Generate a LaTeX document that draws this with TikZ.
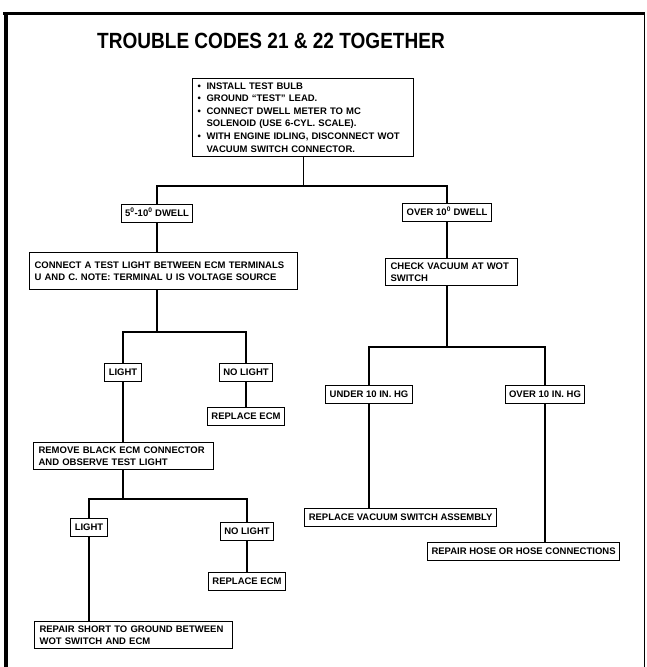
\documentclass[tikz,border=0pt]{standalone}
\usepackage{fontspec}
\setmainfont{Liberation Sans}

\newcommand{\fs}{\fontsize{9.5}{12.6}\selectfont\bfseries}
\newcommand{\bul}{\makebox[9pt][l]{\textbullet}}

\tikzset{
  box/.style={draw,line width=1.1pt,align=left,anchor=north west,
    inner xsep=5pt,inner ysep=4pt,font=\fs},
  tag/.style={draw,line width=1.1pt,anchor=north,inner xsep=4pt,
    inner ysep=5pt,text height=7pt,text depth=1pt,font=\fs},
  wire/.style={line width=1.1pt}
}

\begin{document}
\begin{tikzpicture}[x=1pt,y=-1pt]
\useasboundingbox (0,0) rectangle (647,667);

% frame
\draw[line width=3pt] (3,13.5)--(645,13.5);
\draw[line width=4pt] (5.5,12)--(5.5,667);
\draw[line width=0.8pt] (644.5,13)--(644.5,667);

\node[font=\fontsize{22}{26}\selectfont\bfseries,anchor=base] (title)
    at (271,48) {\scalebox{0.865}[1]{TROUBLE CODES 21 \& 22 TOGETHER}};

\node[box,text width=211pt] (top) at (192,78)
    {\bul INSTALL TEST BULB\\
     \bul GROUND “TEST” LEAD.\\
     \bul CONNECT DWELL METER TO MC\\
     \hspace*{9pt}SOLENOID (USE 6-CYL. SCALE).\\
     \bul WITH ENGINE IDLING, DISCONNECT WOT\\
     \hspace*{9pt}VACUUM SWITCH CONNECTOR.};

% junction levels
\coordinate (j1) at (0,186);
\coordinate (j2) at (0,332);
\coordinate (j3) at (0,499);
\coordinate (j4) at (0,347);

% left branch
\node[tag] (dwA) at (157,204) {5\textsuperscript{0}-10\textsuperscript{0} DWELL};
\node[box,text width=258pt,inner ysep=9pt] (ecm) at (29,252)
    {CONNECT A TEST LIGHT BETWEEN ECM TERMINALS\\
     U AND C. NOTE: TERMINAL U IS VOLTAGE SOURCE};
\node[tag] (liA) at (123,363) {LIGHT};
\node[tag] (nlA) at (246,363) {NO LIGHT};
\node[tag] (rpA) at (246,407) {REPLACE ECM};
\node[box,text width=170pt] (rem) at (33,442)
    {REMOVE BLACK ECM CONNECTOR\\
     AND OBSERVE TEST LIGHT};
\node[tag] (liB) at (89,518) {LIGHT};
\node[tag] (nlB) at (247,522) {NO LIGHT};
\node[tag] (rpB) at (247,572) {REPLACE ECM};
\node[box,text width=188pt] (sho) at (34,621)
    {REPAIR SHORT TO GROUND BETWEEN\\
     WOT SWITCH AND ECM};

% right branch
\node[tag] (dwB) at (447,203) {OVER 10\textsuperscript{0} DWELL};
\node[box,text width=122pt] (chk) at (385,258)
    {CHECK VACUUM AT WOT\\
     SWITCH};
\node[tag] (und) at (369,385) {UNDER 10 IN. HG};
\node[tag] (ovr) at (545,385) {OVER 10 IN. HG};
\node[tag,anchor=north east] (vac) at (497,508) {REPLACE VACUUM SWITCH ASSEMBLY};
\node[tag,anchor=north west] (hos) at (427,542) {REPAIR HOSE OR HOSE CONNECTIONS};

% connectors
\draw[wire] (top.south)--(top.south |- j1);
\draw[wire] (dwA.north) |- (top.south |- j1) -| (dwB.north);

\draw[wire] (dwA.south)--(dwA.south |- ecm.north);
\draw[wire] (dwA.south |- ecm.south)--(dwA.south |- j2);
\draw[wire] (liA.north) |- (dwA.south |- j2) -| (nlA.north);
\draw[wire] (nlA.south)--(nlA.south |- rpA.north);
\draw[wire] (liA.south)--(liA.south |- rem.north);
\draw[wire] (liA.south |- rem.south)--(liA.south |- j3);
\draw[wire] (liB.north) |- (liA.south |- j3) -| (nlB.north);
\draw[wire] (liB.south)--(liB.south |- sho.north);
\draw[wire] (nlB.south)--(nlB.south |- rpB.north);

\draw[wire] (dwB.south)--(dwB.south |- chk.north);
\draw[wire] (dwB.south |- chk.south)--(dwB.south |- j4);
\draw[wire] (und.north) |- (dwB.south |- j4) -| (ovr.north);
\draw[wire] (und.south)--(und.south |- vac.north);
\draw[wire] (ovr.south)--(ovr.south |- hos.north);
\end{tikzpicture}
\end{document}
